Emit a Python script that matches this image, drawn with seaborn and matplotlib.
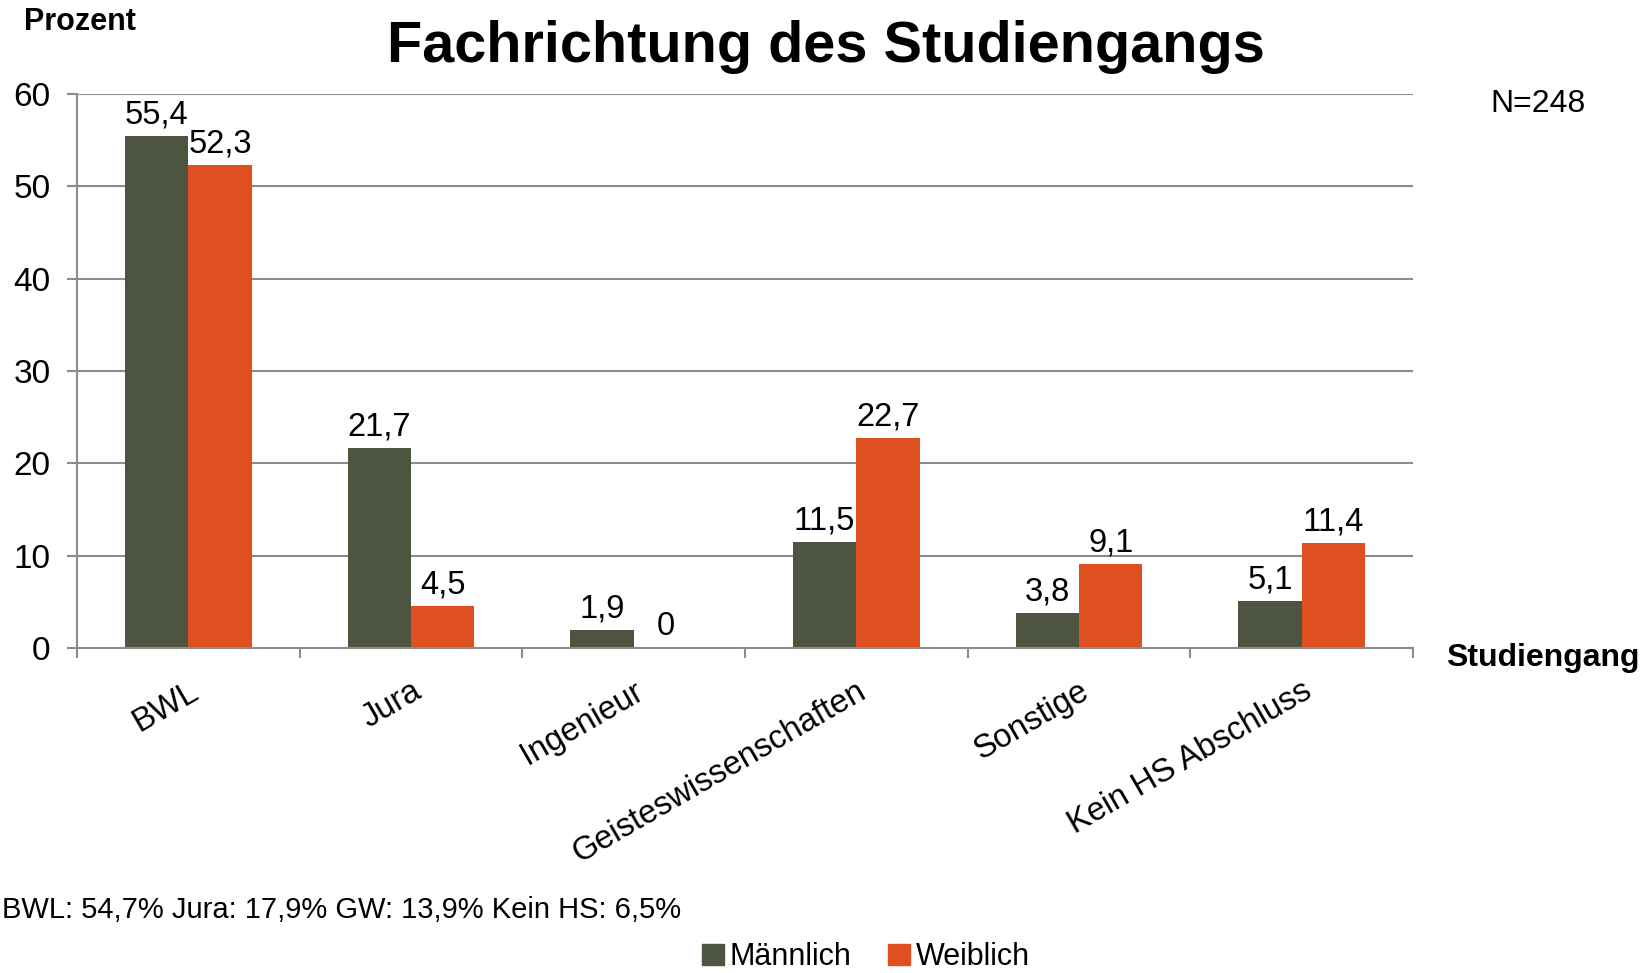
import matplotlib
matplotlib.use("Agg")
import matplotlib.pyplot as plt
import seaborn as sns
import pandas as pd
import numpy as np

categories = ["BWL", "Jura", "Ingenieur", "Geisteswissenschaften", "Sonstige", "Kein HS Abschluss"]
maennlich = [55.4, 21.7, 1.9, 11.5, 3.8, 5.1]
weiblich = [52.3, 4.5, 0.0, 22.7, 9.1, 11.4]
series = ["Männlich", "Weiblich"]
colors = ["#4D5540", "#E04F1F"]
yticks = [0, 10, 20, 30, 40, 50, 60]

df = pd.DataFrame({
    "Studiengang": categories * 2,
    "Prozent": maennlich + weiblich,
    "Geschlecht": [series[0]] * len(categories) + [series[1]] * len(categories),
})

sns.set_theme(style="white")
plt.rcParams["font.family"] = ["Liberation Sans", "DejaVu Sans"]
plt.rcParams["text.color"] = "black"
plt.rcParams["xtick.color"] = "black"
plt.rcParams["ytick.color"] = "black"
plt.rcParams["axes.labelcolor"] = "black"

fig = plt.figure(figsize=(16.52, 9.73), dpi=100)
ax = fig.add_axes([77 / 1652, 1 - 648 / 973, (1413 - 77) / 1652, (648 - 94) / 973])

sns.barplot(data=df, x="Studiengang", y="Prozent", hue="Geschlecht",
            palette=colors, width=0.57, gap=0, saturation=1, ax=ax,
            order=categories, hue_order=series, legend=False, linewidth=0)

for cont in ax.containers:
    labels = [f"{b.get_height():g}".replace(".", ",") for b in cont]
    ax.bar_label(cont, labels=labels, padding=4, fontsize=23.5, color="black")

ax.set_ylim(0, 60)
ax.set_xlim(-0.5, len(categories) - 0.5)
ax.set_yticks(yticks)
ax.set_yticklabels([str(t) for t in yticks], fontsize=24)
ax.yaxis.grid(True, color="#8C8C8C", linewidth=1.5)
ax.set_axisbelow(True)
for s in ["top", "right"]:
    ax.spines[s].set_visible(False)
for s in ["left", "bottom"]:
    ax.spines[s].set_color("#8C8C8C")
    ax.spines[s].set_linewidth(1.5)
ax.tick_params(axis="y", which="major", direction="out", length=7, width=1.5, color="#8C8C8C",
               labelcolor="black", pad=12, left=True)

ax.set_xticks(range(len(categories)))
ax.set_xticklabels(categories, rotation=30, ha="right", rotation_mode="anchor", fontsize=23.5)
ax.tick_params(axis="x", which="major", length=0, pad=20, labelcolor="black")
ax.set_xticks(np.arange(-0.5, len(categories)), minor=True)
ax.tick_params(axis="x", which="minor", direction="out", length=7, width=1.5, color="#8C8C8C", bottom=True)
ax.set_xlabel("")
ax.set_ylabel("")

fig.text(24 / 1652, 1 - 22 / 973, "Prozent", fontsize=22, fontweight="bold", va="center", ha="left")
fig.text(826 / 1652, 1 - 47 / 973, "Fachrichtung des Studiengangs", fontsize=41.5, fontweight="bold",
         va="center", ha="center")
fig.text(1538 / 1652, 1 - 104 / 973, "N=248", fontsize=23, va="center", ha="center")
fig.text(1543 / 1652, 1 - 658 / 973, "Studiengang", fontsize=23, fontweight="bold", va="center", ha="center")
fig.text(2 / 1652, 1 - 910 / 973, "BWL: 54,7% Jura: 17,9% GW: 13,9% Kein HS: 6,5%", fontsize=21,
         va="center", ha="left")

handles = [plt.Rectangle((0, 0), 1, 1, color=c) for c in colors]
fig.legend(handles, series, loc="center", bbox_to_anchor=(866 / 1652, 1 - 957 / 973), ncol=2,
           frameon=False, handlelength=0.7, handleheight=0.7, handletextpad=0.2,
           columnspacing=1.2, prop={"size": 22})

fig.savefig("out.png", dpi=100)
